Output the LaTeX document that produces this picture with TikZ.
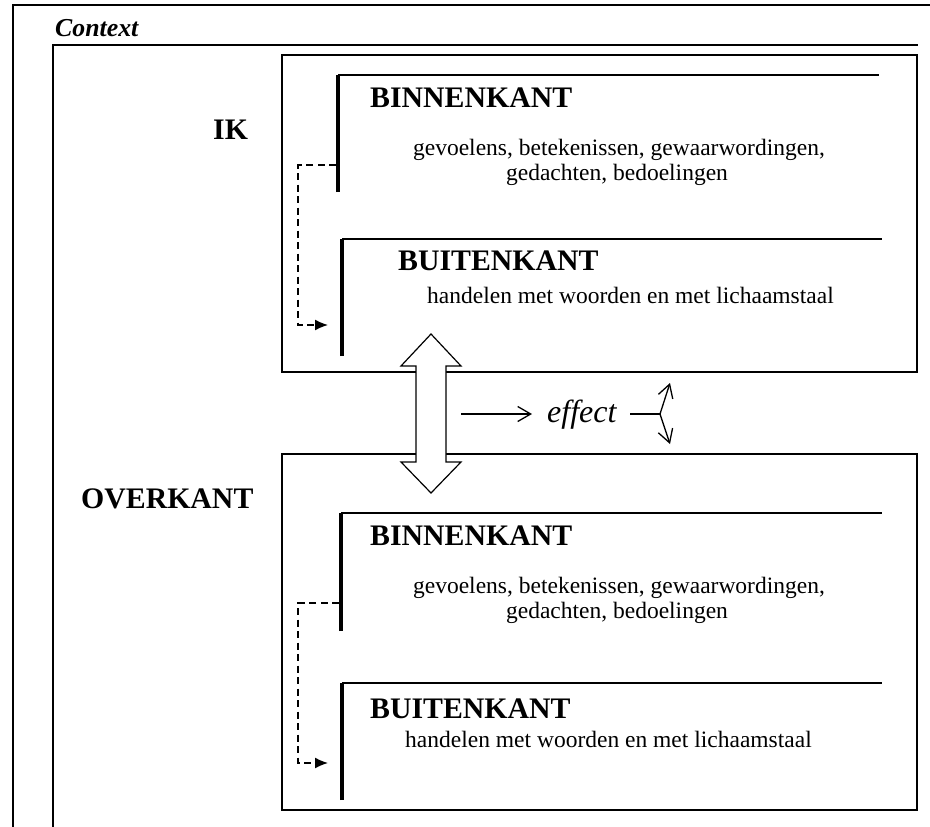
\documentclass[tikz,border=0pt]{standalone}
\usepackage{fontspec}
\setmainfont{Liberation Serif}
\usetikzlibrary{arrows.meta}
\begin{document}
\begin{tikzpicture}[x=1pt,y=-1pt,
 frame/.style={line width=1.5pt},
 bar/.style={line width=4pt},
 rulel/.style={line width=2pt},
 head/.style={font=\fontsize{29.8}{34}\selectfont\bfseries, inner sep=0pt, anchor=base west},
 desc/.style={font=\fontsize{23.5}{27}\selectfont, inner sep=0pt, anchor=base},
 dasharrow/.style={line width=1.5pt, dash pattern=on 7pt off 4.5pt, -{Latex[length=13pt,width=11pt]}},
 openarrow/.style={line width=1.3pt, -{Straight Barb[length=13pt,width=15pt]}},
 bigarrow/.style={line width=1.2pt, fill=white, line join=miter}
]
\useasboundingbox (0,0) rectangle (930,827);

% frames
\draw[frame] (13,827) -- (13,5) -- (930,5);
\draw[frame] (53,827) -- (53,45) -- (918,45);
\draw[frame] (282,55) rectangle (917,372);
\draw[frame] (282,454) rectangle (917,810);

% labels
\node[font=\fontsize{25.8}{30}\selectfont\bfseries\itshape, inner sep=0pt, anchor=base west] (ctx) at (55,36) {Context};
\node[head] (ik) at (213,139) {IK};
\node[head] (over) at (81,508) {OVERKANT};

% IK: binnenkant
\coordinate (binAtop) at (338,75);
\coordinate (binAbot) at (338,192);
\draw[bar] (binAbot) -- (binAtop);
\draw[rulel] (binAtop) -- (879,75);
\node[head] (binA) at (370,107) {BINNENKANT};
\node[desc] (descA1) at (619,155) {gevoelens, betekenissen, gewaarwordingen,};
\node[desc] (descA2) at (617,180) {gedachten, bedoelingen};

% IK: buitenkant
\coordinate (buitAtop) at (342,239);
\coordinate (buitAbot) at (342,356);
\draw[bar] (buitAbot) -- (buitAtop);
\draw[rulel] (buitAtop) -- (882,239);
\node[head] (buitA) at (398,270) {BUITENKANT};
\node[desc, anchor=base west] (handA) at (427,303) {handelen met woorden en met lichaamstaal};

% dashed connector IK
\coordinate (dA1) at (336,165);
\coordinate (dA2) at (328,325);
\draw[dasharrow] (dA1) -- ++(-38,0) |- (dA2);

% OVERKANT: binnenkant
\coordinate (binBtop) at (341,513);
\coordinate (binBbot) at (341,631);
\draw[bar] (binBbot) -- (binBtop);
\draw[rulel] (binBtop) -- (882,513);
\node[head] (binB) at (370,545) {BINNENKANT};
\node[desc] (descB1) at (619,593) {gevoelens, betekenissen, gewaarwordingen,};
\node[desc] (descB2) at (617,618) {gedachten, bedoelingen};

% OVERKANT: buitenkant
\coordinate (buitBtop) at (342,683);
\coordinate (buitBbot) at (342,800);
\draw[bar] (buitBbot) -- (buitBtop);
\draw[rulel] (buitBtop) -- (882,683);
\node[head] (buitB) at (370,718) {BUITENKANT};
\node[desc, anchor=base west] (handB) at (405,747) {handelen met woorden en met lichaamstaal};

% dashed connector OVERKANT
\coordinate (dB1) at (339,603);
\coordinate (dB2) at (328,763);
\draw[dasharrow] (dB1) -- ++(-41,0) |- (dB2);

% double arrow
\draw[bigarrow] (431,334) -- (461,366) -- (446,366) -- (446,462) -- (461,462)
  -- (431,493) -- (401,462) -- (416,462) -- (416,366) -- (401,366) -- cycle;

% effect
\coordinate (e0) at (461,414);
\coordinate (e1) at (532,414);
\node[font=\fontsize{32}{36}\selectfont\itshape, inner sep=0pt, anchor=base west] (eff) at (547,422) {effect};
\coordinate (e2) at (630,414);
\coordinate (ej) at (660,414);
\coordinate (eu) at (670,383);
\coordinate (ed) at (670,444);
\draw[openarrow] (e0) -- (e1);
\draw[line width=1.3pt] (e2) -- (ej);
\draw[openarrow] (ej) -- (eu);
\draw[openarrow] (ej) -- (ed);
\end{tikzpicture}
\end{document}
